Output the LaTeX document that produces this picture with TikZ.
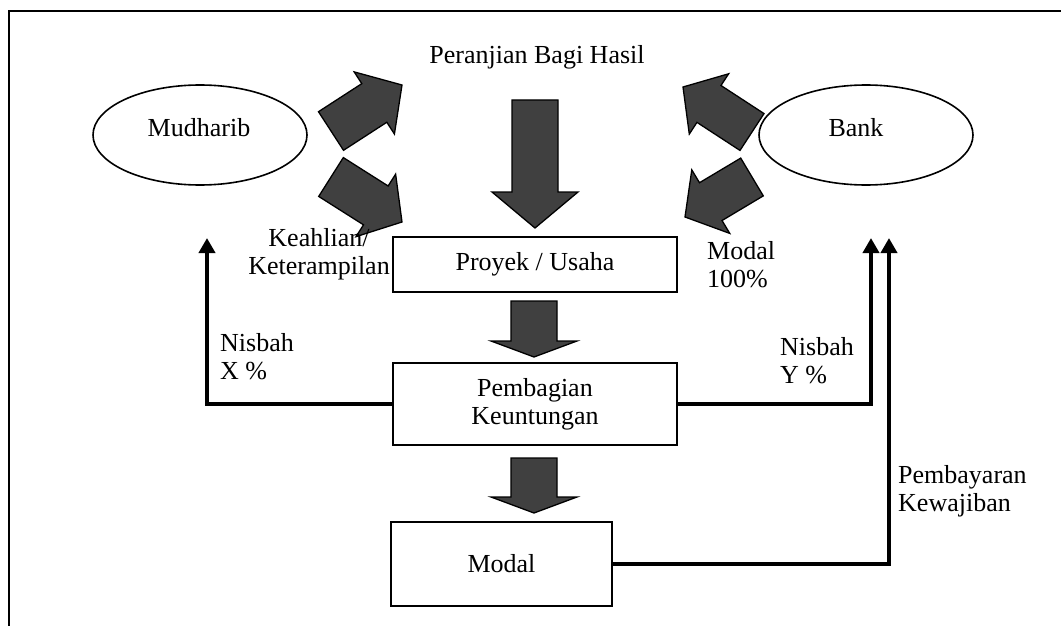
\documentclass[tikz,border=0pt]{standalone}
\usepackage{fontspec}
\setmainfont{Liberation Serif}
\usetikzlibrary{calc,arrows.meta,shapes.geometric}
\definecolor{blockgray}{RGB}{64,64,64}

% Block arrow: tail centre #1, tip #2, shaft half width #3, head half width #4, head length #5
\newcommand{\blockarrow}[5]{%
  \coordinate (ba-h) at ($(#2)!#5!(#1)$);
  \draw[blk] ($(#1)!#3!90:(#2)$) -- ($(ba-h)!#3!90:(#2)$) -- ($(ba-h)!#4!90:(#2)$)
    -- (#2) -- ($(ba-h)!#4!-90:(#2)$) -- ($(ba-h)!#3!-90:(#2)$)
    -- ($(#1)!#3!-90:(#2)$) -- cycle;
}

\begin{document}
\begin{tikzpicture}[x=1pt,y=-1pt,
  txt/.style={font=\fontsize{26}{28}\selectfont, inner sep=0pt},
  box/.style={draw=black, line width=1.6pt, fill=white, font=\fontsize{26}{28}\selectfont, align=center, inner sep=0pt},
  oval/.style={draw=black, ellipse, line width=1.6pt, inner sep=0pt},
  flow/.style={line width=4.5pt, -{Triangle[length=15pt,width=16pt]}},
  blk/.style={fill=blockgray, draw=black, line width=1.3pt, line join=miter}]
\useasboundingbox (0,0) rectangle (1061,626);

% outer frame (only top and left edges fall inside the page)
\draw[line width=2pt] (9,626) -- (9,11) -- (1061,11);

% title
\node[txt] (title) at (537,57) {Peranjian Bagi Hasil};

% parties
\node[oval, minimum width=214pt, minimum height=100pt] (mudharib) at (200,135) {};
\node[txt] (mudharibtxt) at (199,128) {Mudharib};
\node[oval, minimum width=214pt, minimum height=100pt] (bank) at (866,135) {};
\node[txt] (banktxt) at (856,128) {Bank};

% process boxes
\node[box, minimum width=284pt, minimum height=55pt] (proyek) at (535,264.5) {Proyek / Usaha};
\node[box, minimum width=284pt, minimum height=82pt] (pemb) at (535,404) {Pembagian\\Keuntungan};
\node[box, minimum width=221pt, minimum height=84pt] (modal) at (501.5,564) {Modal};

% block arrows towards the project
\coordinate (ulS) at (331,131); \coordinate (ulT) at (402,85);
\coordinate (llS) at (331,177); \coordinate (llT) at (402,222);
\coordinate (urS) at (752,132); \coordinate (urT) at (683,87);
\coordinate (lrS) at (752,177); \coordinate (lrT) at (685,217);
\blockarrow{ulS}{ulT}{23pt}{37pt}{33pt}
\blockarrow{llS}{llT}{23pt}{37pt}{31pt}
\blockarrow{urS}{urT}{22pt}{36pt}{31pt}
\blockarrow{lrS}{lrT}{22pt}{37pt}{30pt}

% vertical block arrows
\coordinate (c1S) at (535,100); \coordinate (c1T) at (535,228);
\coordinate (c2S) at (534,301); \coordinate (c2T) at (534,357);
\coordinate (c3S) at (534,458); \coordinate (c3T) at (534,513);
\blockarrow{c1S}{c1T}{23pt}{43pt}{36pt}
\blockarrow{c2S}{c2T}{23pt}{43pt}{16pt}
\blockarrow{c3S}{c3T}{23pt}{43pt}{16pt}

% labels
\node[txt, align=center] (skill) at (319,254) {Keahlian/\\Keterampilan};
\node[txt, align=left, anchor=west] (capital) at (707,265) {Modal\\100\%};
\node[txt, align=left, anchor=west] (nx) at (220,357) {Nisbah\\X \%};
\node[txt, align=left, anchor=west] (ny) at (780,361) {Nisbah\\Y \%};
\node[txt, align=left, anchor=west] (pay) at (898,491) {Pembayaran\\Kewajiban};

% profit shares and repayment
\coordinate (xtip) at (207,238);
\coordinate (ytip) at (871,238);
\coordinate (ptip) at (889,238);
\draw[flow] (pemb.west) -| (xtip);
\draw[flow] (pemb.east) -| (ytip);
\draw[flow] (modal.east) -| (ptip);
\end{tikzpicture}
\end{document}
